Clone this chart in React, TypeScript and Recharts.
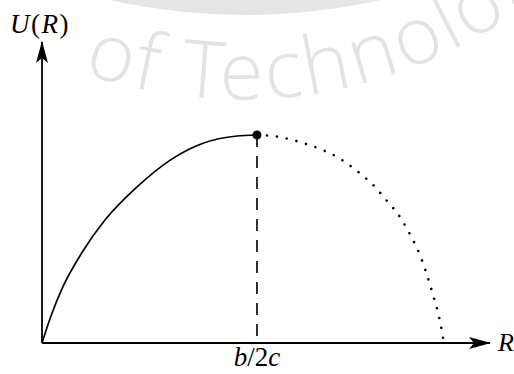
import React from 'react';
import { ComposedChart, XAxis, YAxis, Line, ReferenceLine, ReferenceDot } from 'recharts';

// R in units of b/2c, U in units of the peak value
const risingR = [0, 0.04, 0.098, 0.186, 0.293, 0.442, 0.595, 0.749, 0.907, 1];
const risingU = [0, 0.125, 0.272, 0.435, 0.591, 0.75, 0.878, 0.96, 0.995, 1];

const fallingR = [1, 1.107, 1.2, 1.293, 1.381, 1.465, 1.54, 1.605, 1.665, 1.716, 1.758, 1.791, 1.819, 1.847, 1.865, 1.87];
const fallingU = [1, 0.99, 0.966, 0.933, 0.889, 0.827, 0.76, 0.683, 0.606, 0.514, 0.423, 0.327, 0.231, 0.125, 0.029, 0];

const PEAK_R = 1;
const PEAK_U = 1;
const R_MAX = 2.084;
const U_MAX = 1.447;
const peakTicks = [PEAK_R];

const rising = risingR.map((r, i) => ({ r, u: risingU[i] }));
const falling = fallingR.map((r, i) => ({ r, u: fallingU[i] }));

const MATH_FONT = '"Liberation Serif", "DejaVu Serif", serif';

const PeakTick = (props: any) => {
  const { x, y } = props;
  return (
    <text x={x} y={y + 23} textAnchor="middle" fontFamily={MATH_FONT} fontSize={27} fill="#000">
      <tspan fontStyle="italic">b</tspan>
      <tspan>/2</tspan>
      <tspan fontStyle="italic">c</tspan>
    </text>
  );
};

const ULabel = (props: any) => {
  const { viewBox } = props;
  return (
    <text x={viewBox.x + viewBox.width - 2} y={viewBox.y - 9} textAnchor="middle" fontFamily={MATH_FONT} fontSize={27} letterSpacing={1.5} fill="#000">
      <tspan fontStyle="italic">U</tspan>
      <tspan>(</tspan>
      <tspan fontStyle="italic">R</tspan>
      <tspan>)</tspan>
    </text>
  );
};

const RLabel = (props: any) => {
  const { viewBox } = props;
  return (
    <text x={viewBox.x + viewBox.width + 8} y={viewBox.y + 8} fontFamily={MATH_FONT} fontSize={26} fontStyle="italic" fill="#000">
      R
    </text>
  );
};

// faint seal behind the plot, plus the arrowhead marker used by both axes
const Backdrop = () => (
  <svg width={514} height={374} style={{ position: 'absolute', left: 0, top: 0 }}>
    <defs>
      <marker id="axisArrow" viewBox="0 0 22 14" markerWidth={22} markerHeight={14} refX={21} refY={7}
        orient="auto-start-reverse" markerUnits="userSpaceOnUse">
        <path d="M0,1 L22,7 L0,13 L5,7 Z" fill="#000" />
      </marker>
      <path id="sealArc" d="M -176 -141 A 480 480 0 0 0 656 -141" fill="none" />
    </defs>
    <circle cx={245} cy={-600} r={615} fill="#e5e5e5" />
    <text fontFamily='"Open Sans Light", "Lato Light", "Open Sans", sans-serif' fontWeight={300} fontSize={80} letterSpacing={3} fill="#e3e3e3">
      <textPath href="#sealArc" startOffset={343}>of Technology</textPath>
    </text>
  </svg>
);

export default function App() {
  return (
    <div style={{ position: 'absolute', left: 0, top: 0, width: 514, height: 374, background: '#fff' }}>
      <Backdrop />
      <div style={{ position: 'absolute', left: 0, top: 0 }}>
        <ComposedChart width={514} height={374} margin={{ top: 42, right: 24, bottom: 1, left: 41 }}>
          <XAxis
            dataKey="r"
            type="number"
            domain={[0, R_MAX]}
            allowDataOverflow
            height={30}
            ticks={peakTicks}
            tick={PeakTick}
            tickLine={false}
            tickSize={0}
            tickMargin={0}
            axisLine={{ stroke: '#000', strokeWidth: 1.8, markerEnd: 'url(#axisArrow)' }}
            label={RLabel}
          />
          <YAxis
            dataKey="u"
            type="number"
            domain={[0, U_MAX]}
            allowDataOverflow
            width={1}
            tick={false}
            tickLine={false}
            axisLine={{ stroke: '#000', strokeWidth: 1.8, markerStart: 'url(#axisArrow)' }}
            label={ULabel}
          />
          <ReferenceLine
            segment={[{ x: PEAK_R, y: PEAK_U }, { x: PEAK_R, y: 0 }]}
            stroke="#000"
            strokeWidth={1.6}
            strokeDasharray="12 9"
          />
          <Line data={rising} dataKey="u" type="monotone" stroke="#000" strokeWidth={1.7} dot={false} isAnimationActive={false} />
          <Line
            data={falling}
            dataKey="u"
            type="monotone"
            stroke="#000"
            strokeWidth={2.6}
            strokeDasharray="0.01 10"
            strokeLinecap="round"
            dot={false}
            isAnimationActive={false}
          />
          <ReferenceDot x={PEAK_R} y={PEAK_U} r={4.5} fill="#000" stroke="none" />
        </ComposedChart>
      </div>
    </div>
  );
}
